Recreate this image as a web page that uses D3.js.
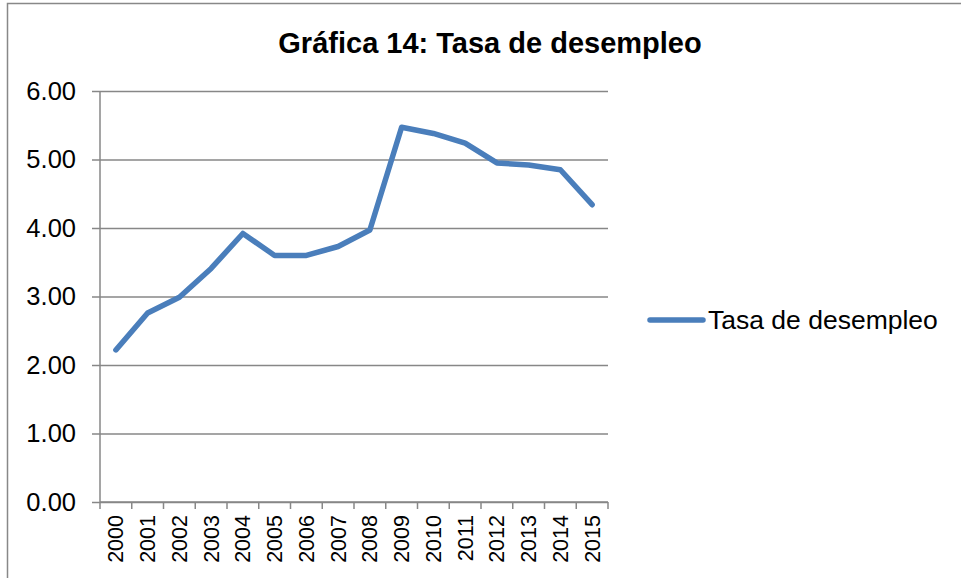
<!DOCTYPE html>
<html>
<head>
<meta charset="utf-8">
<script src="https://cdn.jsdelivr.net/npm/d3@7"></script>
<style>
  body { margin: 0; background: #fff; }
  svg { display: block; font-family: "Liberation Sans", Arial, sans-serif; }
</style>
</head>
<body>
<div id="chart"></div>
<script>
// data
const years = ["2000", "2001", "2002", "2003", "2004", "2005", "2006", "2007",
               "2008", "2009", "2010", "2011", "2012", "2013", "2014", "2015"];
const tasa = [2.22, 2.76, 2.99, 3.41, 3.92, 3.60, 3.60, 3.73,
              3.97, 5.47, 5.38, 5.24, 4.95, 4.92, 4.85, 4.34];
const yTicks = [0, 1, 2, 3, 4, 5, 6];
const seriesName = "Tasa de desempleo";
const title = "Gráfica 14: Tasa de desempleo";

const width = 961;
const height = 578;
const marginLeft = 100;
const plotRight = 608;
const marginTop = 91;
const plotBottom = 502;
const lineColor = "#4a7ebb";
const gridColor = "#878787";

const svg = d3.select("#chart").append("svg")
    .attr("width", width)
    .attr("height", height);

// chart border (right and bottom fall outside the picture)
svg.append("rect")
    .attr("x", 7.5)
    .attr("y", 3.5)
    .attr("width", width + 20)
    .attr("height", height + 20)
    .attr("fill", "none")
    .attr("stroke", "#888")
    .attr("stroke-width", 1.5);

svg.append("text")
    .attr("x", 490)
    .attr("y", 53)
    .attr("text-anchor", "middle")
    .attr("font-size", 29)
    .attr("font-weight", "bold")
    .text(title);

const x = d3.scaleBand()
    .domain(years)
    .range([marginLeft, plotRight]);

const y = d3.scaleLinear()
    .domain([0, 6])
    .range([plotBottom, marginTop]);

// horizontal gridlines + y axis
svg.append("g")
    .attr("transform", `translate(${marginLeft},0)`)
    .call(d3.axisLeft(y).tickValues(yTicks).tickFormat(d3.format(".2f"))
        .tickSize(8).tickPadding(16))
    .call(g => g.select(".domain").remove())
    .call(g => g.selectAll(".tick line")
        .attr("stroke", gridColor).attr("stroke-width", 1.5)
        .attr("x2", plotRight - marginLeft).attr("x1", -8))
    .call(g => g.selectAll(".tick text")
        .attr("font-size", 25.5).attr("fill", "#000")
        .attr("font-family", "Liberation Sans, Arial, sans-serif"));

svg.append("line")
    .attr("x1", marginLeft).attr("x2", marginLeft)
    .attr("y1", marginTop).attr("y2", plotBottom)
    .attr("stroke", gridColor).attr("stroke-width", 1.5);

// x axis with ticks at band boundaries
const xAxis = svg.append("g")
    .attr("transform", `translate(0,${plotBottom})`);

xAxis.append("line")
    .attr("x1", marginLeft).attr("x2", plotRight)
    .attr("stroke", gridColor).attr("stroke-width", 1.5);

xAxis.selectAll("line.tk")
    .data(years.concat(["end"]))
    .join("line")
    .attr("class", "tk")
    .attr("x1", (d, i) => marginLeft + i * x.step())
    .attr("x2", (d, i) => marginLeft + i * x.step())
    .attr("y1", 0)
    .attr("y2", 7)
    .attr("stroke", gridColor)
    .attr("stroke-width", 1.5);

xAxis.selectAll("text")
    .data(years)
    .join("text")
    .attr("transform", d => `translate(${x(d) + x.bandwidth() / 2},13) rotate(-90)`)
    .attr("text-anchor", "end")
    .attr("dy", "0.35em")
    .attr("font-size", 21.5)
    .text(d => d);

// the series
const line = d3.line()
    .x((d, i) => x(years[i]) + x.bandwidth() / 2)
    .y(d => y(d));

svg.append("path")
    .datum(tasa)
    .attr("fill", "none")
    .attr("stroke", lineColor)
    .attr("stroke-width", 5.5)
    .attr("stroke-linejoin", "round")
    .attr("stroke-linecap", "round")
    .attr("d", line);

// legend
const legend = svg.append("g").attr("transform", "translate(650,320)");
legend.append("line")
    .attr("x1", 0).attr("x2", 53)
    .attr("stroke", lineColor)
    .attr("stroke-width", 5.5)
    .attr("stroke-linecap", "round");
legend.append("text")
    .attr("x", 58)
    .attr("dy", "0.35em")
    .attr("font-size", 26.5)
    .text(seriesName);
</script>
</body>
</html>
